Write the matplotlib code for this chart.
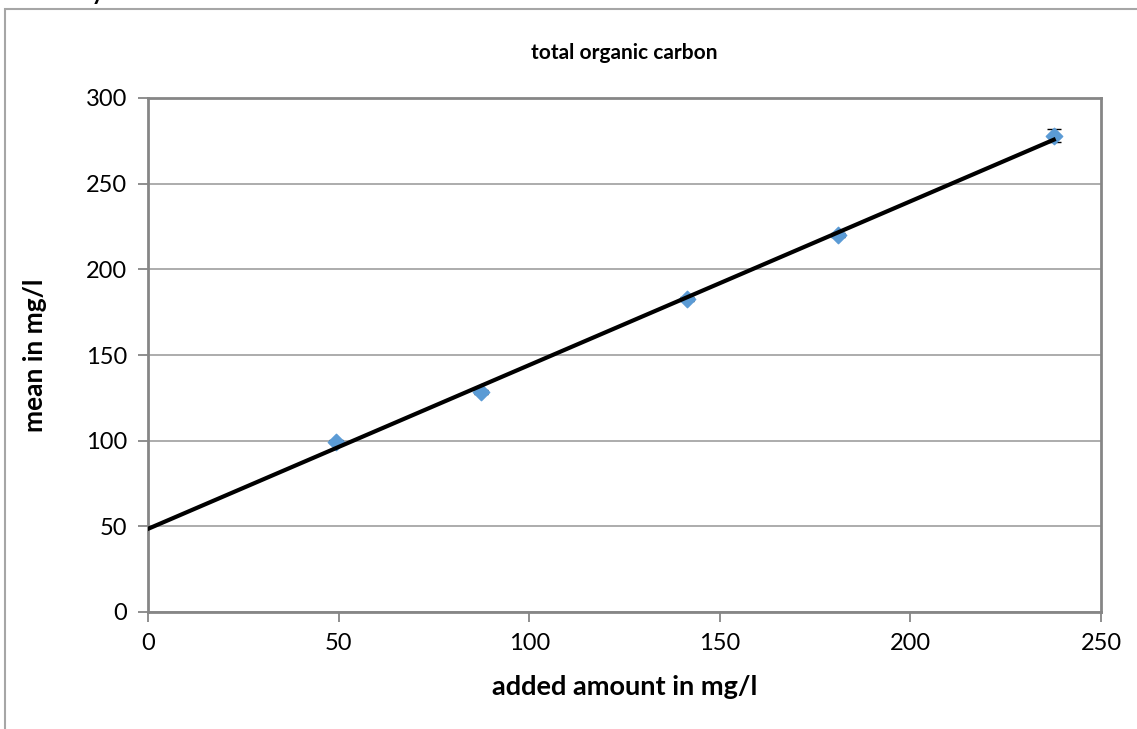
import numpy as np
from matplotlib import pyplot as plt
from matplotlib.patches import Rectangle

# values
added_amount = [49.2, 87.4, 141.4, 181.0, 237.6]
mean_value = [99.5, 128.4, 182.6, 220.0, 278.0]
mean_err = [0.8, 1.0, 1.2, 1.0, 3.9]

x_ticks = [0, 50, 100, 150, 200, 250]
y_ticks = [0, 50, 100, 150, 200, 250, 300]

plt.rcParams['font.family'] = ['Lato', 'DejaVu Sans']

fig = plt.figure(figsize=(11.37, 7.29), dpi=100)
ax = fig.add_axes([148 / 1137, 1 - 612 / 729, (1101 - 148) / 1137, (612 - 98) / 729])

# outer chart border (runs past the right and bottom edge of the picture)
fig.patches.append(Rectangle((5 / 1137, -0.1), 1.2, 1 - 9 / 729 + 0.1, transform=fig.transFigure,
                             fill=False, edgecolor="#a6a6a6", linewidth=1.5))

# heading of the document above the chart, mostly cut off by the top edge
fig.text(0.004, 1 + 0.5 / 729, "Recovery and mean content", fontsize=17, fontweight="bold",
         ha="left", va="baseline")

ax.set_axisbelow(True)
ax.grid(axis="y", color="#a6a6a6", linewidth=1.3)

# linear trend line from 0 to the last point
slope, intercept = np.polyfit(added_amount, mean_value, 1)
xs = np.array([0, max(added_amount)])
ax.plot(xs, slope * xs + intercept, color="black", linewidth=3, zorder=3)

ax.errorbar(added_amount, mean_value, yerr=mean_err, fmt="none", ecolor="black",
            elinewidth=1, capsize=5, capthick=1, zorder=2)
ax.scatter(added_amount, mean_value, marker="D", s=70, color="#5b9bd5", zorder=2.5)

ax.set_xlim(0, 250)
ax.set_ylim(0, 300)
ax.set_xticks(x_ticks)
ax.set_yticks(y_ticks)
ax.tick_params(labelsize=17, length=7, width=1.3, color="#868686", pad=8)

for side in ["left", "bottom", "right", "top"]:
    ax.spines[side].set_color("#868686")
    ax.spines[side].set_linewidth(2)

ax.set_title("total organic carbon", fontsize=15, fontweight="bold", pad=28)
ax.set_xlabel("added amount in mg/l", fontsize=19.5, fontweight="bold", labelpad=15)
ax.set_ylabel("mean in mg/l", fontsize=19, fontweight="bold", labelpad=28)

fig.savefig("out.png", dpi=100)
